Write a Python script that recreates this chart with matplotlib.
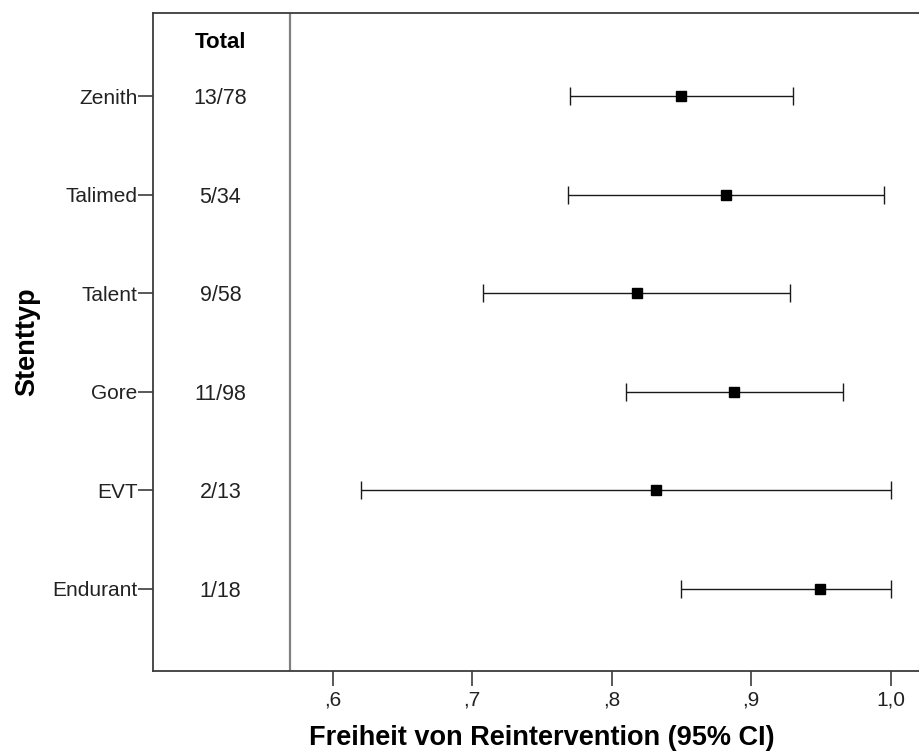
import matplotlib
matplotlib.use("Agg")
import matplotlib.pyplot as plt

plt.rcParams["font.family"] = ["Liberation Sans", "DejaVu Sans"]

stents = ["Zenith", "Talimed", "Talent", "Gore", "EVT", "Endurant"]
totals = ["13/78", "5/34", "9/58", "11/98", "2/13", "1/18"]
estimate = [0.850, 0.882, 0.818, 0.888, 0.832, 0.949]
ci_low = [0.770, 0.769, 0.708, 0.810, 0.620, 0.850]
ci_high = [0.930, 0.995, 0.928, 0.966, 1.000, 1.000]

x_ticks = [0.6, 0.7, 0.8, 0.9, 1.0]
x_tick_labels = [",6", ",7", ",8", ",9", "1,0"]

frame_col = "#3c3c3c"

fig = plt.figure(figsize=(9.2, 7.53), dpi=100)
ax = fig.add_axes([153 / 920, 1 - 671 / 753, (930 - 153) / 920, (671 - 13) / 753])

rows = list(range(len(stents)))
err = [[e - lo for e, lo in zip(estimate, ci_low)], [hi - e for e, hi in zip(estimate, ci_high)]]
ax.errorbar(estimate, rows, xerr=err, fmt="s", color="black", ms=6.5,
            ecolor="#1a1a1a", elinewidth=1.0, capsize=6.8, capthick=1.0, zorder=3)

# count column left of the separator line
sep_x = 0.5694
ax.axvline(sep_x, color="#808080", lw=1.6)
for r, t in zip(rows, totals):
    ax.text(0.5195, r, t, ha="center", va="center_baseline", fontsize=15.5, color="#222222")
ax.text(0.5195, -0.57, "Total", ha="center", va="center_baseline", fontsize=16, fontweight="bold")

ax.set_xlim(0.4712, 1.0282)
ax.set_ylim(5.832, -0.842)
ax.set_yticks(rows)
ax.set_yticklabels(stents, fontsize=15, color="#222222")
ax.set_xticks(x_ticks)
ax.set_xticklabels(x_tick_labels, fontsize=15, color="#222222")
ax.tick_params(axis="y", length=11, width=1.2, color=frame_col, pad=0)
ax.tick_params(axis="x", length=11, width=1.2, color=frame_col, pad=3)

for side in ["left", "bottom", "top", "right"]:
    ax.spines[side].set_color(frame_col)
    ax.spines[side].set_linewidth(1.3)

ax.set_xlabel("Freiheit von Reintervention (95% CI)", fontsize=19.5, fontweight="bold", labelpad=11)
ax.set_ylabel("Stenttyp", fontsize=19.5, fontweight="bold", labelpad=9)

fig.savefig("out.png", dpi=100)
plt.close(fig)
